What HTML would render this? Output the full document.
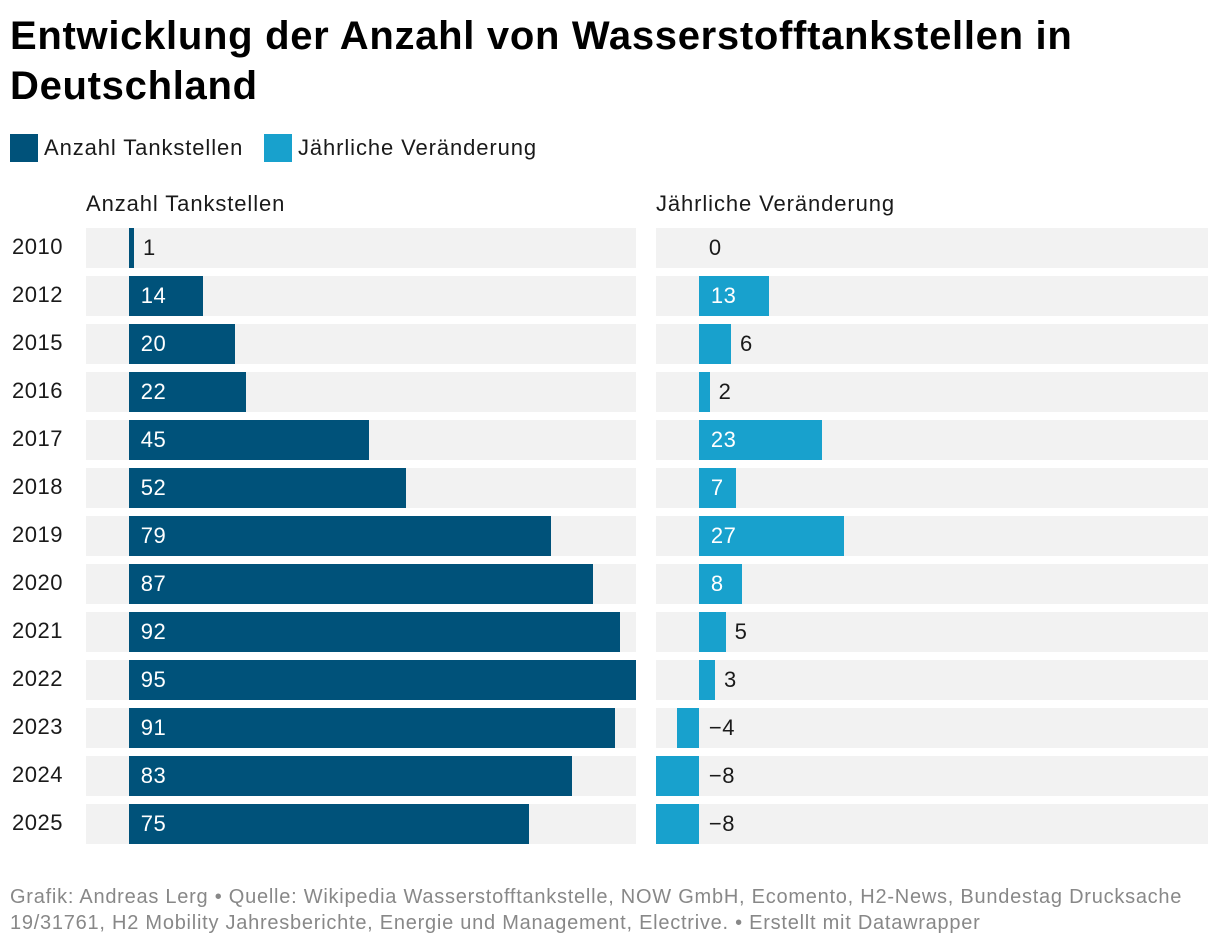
<!DOCTYPE html>
<html><head><meta charset="utf-8"><style>
body{margin:0;width:1220px;height:946px;background:#fff;font-family:"Liberation Sans",sans-serif;color:#1a1a1a;position:relative;overflow:hidden}
.t{position:absolute;white-space:nowrap}
</style></head><body>
<div class="t" style="left:10px;top:11px;font-size:40px;letter-spacing:0.7px;font-weight:bold;line-height:50px;color:#000">Entwicklung der Anzahl von Wasserstofftankstellen in<br>Deutschland</div>
<div>
<div style="position:absolute;left:10px;top:134px;width:28px;height:28px;background:#00527a"></div>
<div class="t" style="left:44px;top:135px;font-size:22px;letter-spacing:0.9px">Anzahl Tankstellen</div>
<div style="position:absolute;left:264px;top:134px;width:28px;height:28px;background:#18a1cd"></div>
<div class="t" style="left:298px;top:135px;font-size:22px;letter-spacing:0.9px">Jährliche Veränderung</div>
</div>
<div class="t" style="left:86px;top:191px;font-size:22px;letter-spacing:0.9px">Anzahl Tankstellen</div>
<div class="t" style="left:656px;top:191px;font-size:22px;letter-spacing:0.9px">Jährliche Veränderung</div>
<div id="chart"></div>
<div class="t" style="left:10px;top:884px;font-size:20px;letter-spacing:0.75px;line-height:26px;color:#888">Grafik: Andreas Lerg • Quelle: Wikipedia Wasserstofftankstelle, NOW GmbH, Ecomento, H2-News, Bundestag Drucksache<br>19/31761, H2 Mobility Jahresberichte, Energie und Management, Electrive. • Erstellt mit Datawrapper</div>
<script>
const years=["2010","2012","2015","2016","2017","2018","2019","2020","2021","2022","2023","2024","2025"];
const counts=[1,14,20,22,45,52,79,87,92,95,91,83,75];
const changes=[0,13,6,2,23,7,27,8,5,3,-4,-8,-8];
const domainMin=-8, domainMax=95;
const root=document.getElementById('chart');
const rowTop=228,rowPitch=48,rowH=40;
function scale(v,left,w){return left+(v-domainMin)/(domainMax-domainMin)*w;}
function div(css,text){const d=document.createElement('div');d.style.cssText=css;if(text!==undefined)d.textContent=text;root.appendChild(d);return d;}
function panel(vals,left,w,color,prefix){
  vals.forEach((v,i)=>{
    const y=rowTop+i*rowPitch;
    const bg=div(`position:absolute;left:${left}px;top:${y}px;width:${w}px;height:${rowH}px;background:#f2f2f2`);
    
    
    const z=scale(0,left,w),x=scale(v,left,w);
    const x0=Math.min(z,x),bw=Math.abs(x-z);
    const b=div(`position:absolute;left:${x0}px;top:${y}px;width:${Math.max(bw,v===0?0:1)}px;height:${rowH}px;background:${color}`);
    
    
    const txt=v<0?'\u2212'+Math.abs(v):String(v);
    let lx,col;
    if(v>0&&bw>=35){lx=z+12;col='#fff';}
    else if(v>0){lx=x+9;col='#1a1a1a';}
    else{lx=z+10;col='#1a1a1a';}
    const l=div(`position:absolute;left:${lx}px;top:${y+8}px;font-size:22px;letter-spacing:0.5px;line-height:24px;color:${col};white-space:nowrap`,txt);
    
    
  });
}
years.forEach((yr,i)=>{
  const l=div(`position:absolute;left:12px;top:${rowTop+i*rowPitch+7}px;font-size:22px;letter-spacing:0.5px;line-height:24px;white-space:nowrap`,yr);
  
  
});
panel(counts,86,550,'#00527a','count');
panel(changes,656,552,'#18a1cd','change');
</script>
</body></html>
